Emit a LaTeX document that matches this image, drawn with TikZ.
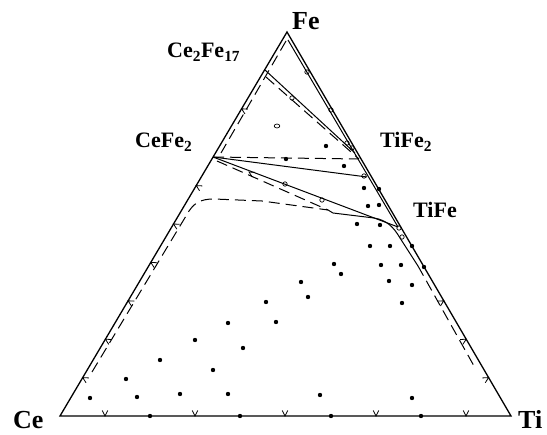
\documentclass[tikz,border=0pt]{standalone}
\usepackage{fontspec}
\setmainfont{Liberation Serif}
\usetikzlibrary{calc}
\begin{document}
\begin{tikzpicture}[x=1pt,y=-1pt,
  edge/.style={line width=1.3pt},
  tie/.style={line width=1pt},
  dsh/.style={line width=1pt, dash pattern=on 11pt off 6pt},
  big/.style={inner sep=0pt, anchor=base west, font=\fontsize{26}{26}\selectfont\bfseries},
  lab/.style={inner sep=0pt, anchor=base west, font=\fontsize{22}{22}\selectfont\bfseries},
  vmark/.pic={\draw[line width=0.8pt] (-2.8,-5.5) -- (0,0) -- (2.8,-5.5);}
]
\useasboundingbox (0,0) rectangle (547,435);
\coordinate (Ce) at (60,416);
\coordinate (Ti) at (511,416);
\coordinate (Fe) at (287,32);
\coordinate (CeFe2) at (213,157);
\coordinate (Ce2Fe17) at (265,70);
\coordinate (TiFe2) at (359,159);
\coordinate (TiFe) at (398,227);
\coordinate (Apx) at (288,40);
\coordinate (Cx) at (328,210);

% triangle
\draw[edge] (Ce) -- (Fe) -- (Ti) -- cycle;
% inner double line along Fe-Ti
\draw[tie] (Apx) -- (TiFe);

% Ce2Fe17 ties
\draw[tie] (Ce2Fe17) -- (355,153);
\draw[dsh] (266,77) -- (TiFe2);
\draw[dsh] (286,41) -- (221,153);

% CeFe2 ties
\draw[dsh] (CeFe2) -- (TiFe2);
\draw[tie] (CeFe2) -- (367,177);
\draw[tie] (CeFe2) -- (TiFe);
\draw[dsh] (217,161) -- (Cx);

% big boundary
\draw[dsh] (92,372) -- (186,216) .. controls (193,203) and (200,199) .. (214,199) -- (262,201) -- (Cx);
\draw[tie] (Cx) -- (333,213) -- (374,218) .. controls (386,220) and (393,226) .. (400,238) -- (418,266);
\draw[dsh] (418,266) -- (474,366);

% edge marks
\foreach \x in {105,195,285,376,466} \pic at (\x,416) {vmark};
\foreach \k in {1,...,6,8} \pic[rotate=-120] at ({60+22.7*\k},{416-38.4*\k}) {vmark};
\foreach \k in {1,2,3} \pic[rotate=120] at ({511-22.4*\k},{416-38.4*\k}) {vmark};
\pic[rotate=-120] at (249,172) {vmark};

% filled dots
\foreach \p in {(150,416),(240,416),(331,416),(421,416),
  (326,146),(286,159),(344,166),(364,188),(379,189),(368,206),(379,205),
  (357,224),(380,225),(370,246),(390,246),(412,246),(334,264),(381,265),
  (401,265),(424,267),(301,282),(341,274),(389,281),(412,285),(308,297),
  (402,303),(276,322),(320,395),(412,398),(266,302),(228,323),(195,340),
  (243,348),(160,360),(213,370),(126,379),(90,398),(137,397),(180,394),(228,394)}
  \fill \p circle (2.2);

% open circles
\foreach \p in {(292,98),(307,72),(331,110),(347,143),(352,148),(364,176),
  (285,184),(322,200),(399,228),(402,237)}
  \draw[line width=0.7pt] \p circle (2.2);
\draw[line width=0.7pt] (277,126) ellipse (2.8 and 2);

% labels
\node[big] (lFe) at (292,30) {Fe};
\node[big] (lCe) at (13,429) {Ce};
\node[big] (lTi) at (518,429) {Ti};
\node[lab] (lCe2Fe17) at (167,58) {Ce\textsubscript{2}Fe\textsubscript{17}};
\node[lab] (lCeFe2) at (135,148) {CeFe\textsubscript{2}};
\node[lab] (lTiFe2) at (380,148) {TiFe\textsubscript{2}};
\node[lab] (lTiFe) at (413,218) {TiFe};
\end{tikzpicture}
\end{document}
